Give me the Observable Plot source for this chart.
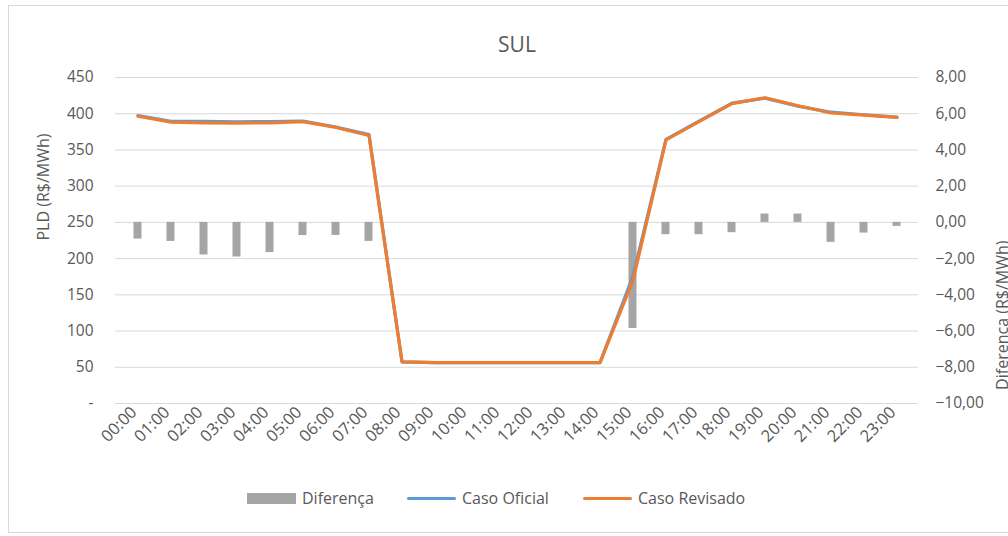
<!DOCTYPE html>
<html>
<head>
<meta charset="utf-8">
<script src="https://cdn.jsdelivr.net/npm/d3@7"></script>
<script src="https://cdn.jsdelivr.net/npm/@observablehq/plot@0.6"></script>
<style>
  html, body { margin: 0; padding: 0; background: #fff; }
  #wrap { position: relative; width: 1008px; height: 536px; overflow: hidden; font-family: "Open Sans", sans-serif; }
  #frame { position: absolute; left: 8px; top: 5px; width: 1020px; height: 528px; border: 1px solid #d9d9d9; box-sizing: border-box; }
  #legend { position: absolute; left: 0; top: 486px; width: 1008px; height: 24px; font-size: 16px; color: #595959; white-space: nowrap; }
  #legend .item { position: absolute; top: 0; display: flex; align-items: center; height: 24px; }
  #legend .sw { display: inline-block; width: 49px; margin-right: 6px; }
  #chart { position: absolute; left: 0; top: 0; }
</style>
</head>
<body>
<div id="wrap">
  <div id="frame"></div>
  <div id="chart"></div>
  <div id="legend"></div>
</div>
<script>
const title = "SUL";
const leftAxisTitle = "PLD (R$/MWh)";
const rightAxisTitle = "Diferença (R$/MWh)";

const hours = ["00:00","01:00","02:00","03:00","04:00","05:00","06:00","07:00","08:00","09:00","10:00","11:00",
               "12:00","13:00","14:00","15:00","16:00","17:00","18:00","19:00","20:00","21:00","22:00","23:00"];

const diferenca = [-0.92, -1.05, -1.80, -1.91, -1.67, -0.73, -0.72, -1.05, 0, 0, 0, 0,
                   0, 0, 0, -5.86, -0.68, -0.68, -0.57, 0.46, 0.46, -1.10, -0.59, -0.22];

const casoOficial = [397.4, 389.6, 389.3, 388.9, 389.2, 389.7, 381.7, 371.1, 57.5, 56.5, 56.5, 56.5,
                     56.5, 56.5, 56.5, 175.9, 364.7, 389.7, 414.6, 421.5, 410.5, 402.1, 398.6, 395.2];

const casoRevisado = [396.5, 388.5, 387.5, 387.0, 387.5, 389.0, 381.0, 370.0, 57.5, 56.5, 56.5, 56.5,
                      56.5, 56.5, 56.5, 170.0, 364.0, 389.0, 414.0, 422.0, 411.0, 401.0, 398.0, 395.0];

const leftTicks = [0, 50, 100, 150, 200, 250, 300, 350, 400, 450];
const rightTicks = [-10, -8, -6, -4, -2, 0, 2, 4, 6, 8];

const seriesNames = ["Diferença", "Caso Oficial", "Caso Revisado"];
const seriesColors = ["#a5a5a5", "#5b9bd5", "#ed7d31"];

// secondary axis [-10, 8] mapped onto primary [0, 450]
const toLeft = d => (d + 10) * 450 / 18;
const fromLeft = v => v * 18 / 450 - 10;
const fmtRight = d => d3.format(".2f")(d).replace(".", ",");

const rows = hours.map((h, i) => ({
  hora: h, diferenca: diferenca[i], oficial: casoOficial[i], revisado: casoRevisado[i]
}));

const textColor = "#595959";

const chart = Plot.plot({
  width: 1008,
  height: 536,
  marginLeft: 115,
  marginRight: 90,
  marginTop: 77,
  marginBottom: 133,
  style: { fontFamily: "'Open Sans', sans-serif", fontSize: "15px", color: textColor, background: "transparent", overflow: "visible" },
  x: { type: "band", domain: hours, padding: 0 },
  y: { domain: [0, 450] },
  marks: [
    Plot.gridY(leftTicks, { stroke: "#d9d9d9", strokeOpacity: 1, strokeWidth: 1 }),
    Plot.barY(rows, {
      x: "hora",
      y1: () => toLeft(0),
      y2: d => toLeft(d.diferenca),
      fill: seriesColors[0],
      insetLeft: 12.5,
      insetRight: 12.5
    }),
    Plot.line(rows, { x: "hora", y: "oficial", stroke: seriesColors[1], strokeWidth: 3.2 }),
    Plot.line(rows, { x: "hora", y: "revisado", stroke: seriesColors[2], strokeWidth: 3.2 }),
    Plot.axisY(leftTicks, {
      anchor: "left", tickSize: 0, tickPadding: 22, label: null,
      tickFormat: d => d === 0 ? "-" : String(d), fontSize: 15.5, fill: textColor
    }),
    Plot.axisY(rightTicks.map(toLeft), {
      anchor: "right", tickSize: 0, tickPadding: 17, label: null,
      tickFormat: v => fmtRight(Math.round(fromLeft(v))), fontSize: 15.5, fill: textColor
    }),
    Plot.axisX({
      tickRotate: -45, tickSize: 0, tickPadding: 6, dx: -4, label: null, fontSize: 16.5, fill: textColor
    }),
    Plot.text([title], { frameAnchor: "top", dy: -32, lineAnchor: "middle", fontSize: 21, fill: textColor }),
    Plot.text([leftAxisTitle], { frameAnchor: "left", dx: -72, rotate: -90, fontSize: 16, fill: textColor }),
    Plot.text([rightAxisTitle], { frameAnchor: "right", dx: 84, rotate: -90, fontSize: 16, fill: textColor })
  ]
});
document.getElementById("chart").appendChild(chart);

const legendLeft = [247, 407, 583];
const legend = document.getElementById("legend");
seriesNames.forEach((name, i) => {
  const item = document.createElement("div");
  item.className = "item";
  item.style.left = legendLeft[i] + "px";
  const sw = document.createElement("span");
  sw.className = "sw";
  sw.style.background = seriesColors[i];
  if (i === 0) { sw.style.height = "11px"; }
  else { sw.style.height = "3px"; sw.style.borderRadius = "2px"; }
  const label = document.createElement("span");
  label.textContent = name;
  item.appendChild(sw);
  item.appendChild(label);
  legend.appendChild(item);
});
</script>
</body>
</html>
